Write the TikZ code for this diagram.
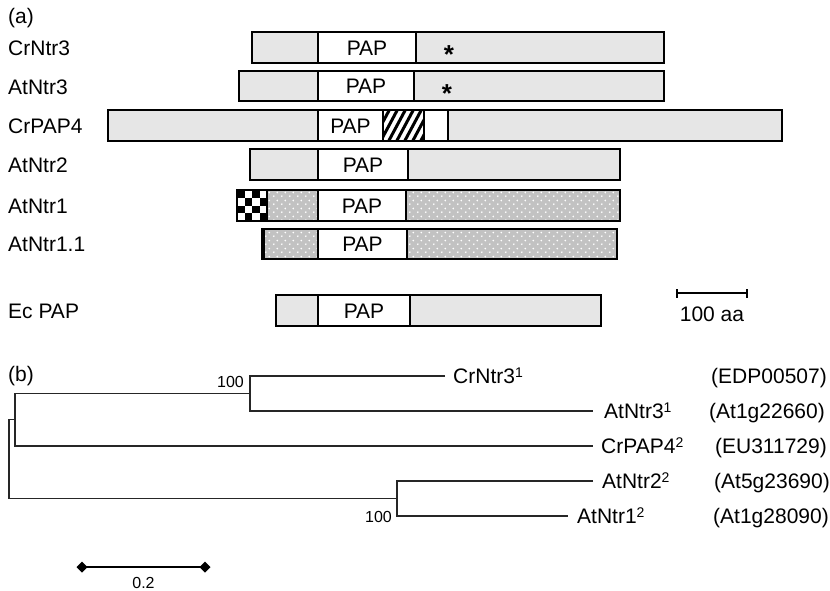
\documentclass[tikz,border=0pt]{standalone}
\usepackage{fontspec}
\setmainfont{Liberation Sans}
\usetikzlibrary{patterns}
\pgfdeclarepatternformonly{wdots}{\pgfpointorigin}{\pgfpoint{8pt}{8pt}}{\pgfpoint{8pt}{8pt}}{%
 \pgfpathcircle{\pgfpoint{2pt}{2pt}}{1pt}\pgfpathcircle{\pgfpoint{6pt}{6pt}}{1pt}\pgfusepath{fill}}
\definecolor{barg}{HTML}{E6E6E6}
\definecolor{dotg}{HTML}{C2C2C2}
\newcommand\fsa{\fontsize{21}{23}\selectfont}
\newcommand\fsb{\fontsize{16}{18}\selectfont}
\newcommand\fsstar{\fontsize{26}{26}\selectfont\bfseries}
\newcommand\supx[1]{\raisebox{6pt}{\fontsize{14}{14}\selectfont #1}}
\begin{document}
\begin{tikzpicture}[x=1pt,y=-1pt,
  bar/.style={draw=black,line width=1.6pt,fill=barg},
  papbox/.style={draw=black,line width=1.6pt,fill=white},
  edge/.style={draw=black,line width=1.6pt},
  lbl/.style={anchor=base west,inner sep=0pt,font=\fsa},
  ctxt/.style={anchor=base,inner sep=0pt,font=\fsa},
  star/.style={anchor=base,inner sep=0pt,font=\fsstar},
  acc/.style={anchor=base east,inner sep=0pt,font=\fsa},
  small/.style={anchor=base east,inner sep=0pt,font=\fsb},
  br/.style={line width=1.5pt,draw=black!85}]
\useasboundingbox (0,0) rectangle (830,590);

% ---------- panel (a) ----------
\node[lbl] (la) at (8,23.5) {(a)};
\node[lbl] (l1) at (8,55) {CrNtr3};
\node[lbl] (l2) at (8,94) {AtNtr3};
\node[lbl] (l3) at (8,133) {CrPAP4};
\node[lbl] (l4) at (8,172) {AtNtr2};
\node[lbl] (l5) at (8,213) {AtNtr1};
\node[lbl] (l6) at (8,251.5) {AtNtr1.1};
\node[lbl] (l7) at (8,318) {Ec PAP};

% CrNtr3
\draw[bar] (252,32) rectangle (664,63);
\draw[papbox] (318,32) rectangle (416,63);
\node[ctxt] (p1) at (367,55) {PAP};
\node[star] (s1) at (449,63) {*};

% AtNtr3
\draw[bar] (239,71) rectangle (664,101);
\draw[papbox] (318,71) rectangle (414,101);
\node[ctxt] (p2) at (366,93.5) {PAP};
\node[star] (s2) at (447,102) {*};

% CrPAP4
\draw[bar] (108,110) rectangle (782,141);
\draw[papbox] (318,110) rectangle (383,141);
\begin{scope}
\clip (383,110) rectangle (424,141);
\fill[white] (383,110) rectangle (424,141);
\foreach \x in {362,370,...,434} \draw[line width=3pt] (\x,146) -- ({\x+22},105);
\end{scope}
\draw[edge] (383,110) rectangle (424,141);
\draw[papbox] (424,110) rectangle (448,141);
\node[ctxt] (p3) at (350.5,133) {PAP};

% AtNtr2
\draw[bar] (250,149) rectangle (620,180);
\draw[papbox] (318,149) rectangle (408,180);
\node[ctxt] (p4) at (363,172) {PAP};

% AtNtr1
\fill[dotg] (237,190) rectangle (620,221);
\fill[pattern=wdots,pattern color=white] (237,190) rectangle (620,221);
\fill[white] (237,190) rectangle (267,221);
\foreach \i/\j in {0/0,0/2,1/1,1/3,2/0,2/2,3/1,3/3}
  \fill[black] ({237+7.5*\i},{190+7.75*\j}) rectangle ++(7.5,7.75);
\draw[edge] (237,190) rectangle (620,221);
\draw[edge] (267,190) -- (267,221);
\draw[papbox] (318,190) rectangle (406,221);
\node[ctxt] (p5) at (362,213) {PAP};

% AtNtr1.1
\fill[dotg] (262,229) rectangle (617,259);
\fill[pattern=wdots,pattern color=white] (262,229) rectangle (617,259);
\draw[edge] (262,229) rectangle (617,259);
\draw[line width=3.5pt] (263.5,229) -- (263.5,259);
\draw[papbox] (318,229) rectangle (407,259);
\node[ctxt] (p6) at (362.5,251.5) {PAP};

% Ec PAP
\draw[bar] (276,295) rectangle (601,326);
\draw[papbox] (318,295) rectangle (410,326);
\node[ctxt] (p7) at (364,318) {PAP};

% 100 aa scale
\coordinate (sa) at (677,293);
\coordinate (sb) at (747,293);
\draw[edge] (sa) -- (sb);
\draw[edge] ([yshift=-4.5pt]sa) -- ([yshift=4.5pt]sa);
\draw[edge] ([yshift=-4.5pt]sb) -- ([yshift=4.5pt]sb);
\node[ctxt] (saa) at (712,321) {100 aa};

% ---------- panel (b) ----------
\node[lbl] (lb) at (8,381) {(b)};

\coordinate (r1) at (9,419.5);
\coordinate (r2) at (9,498.5);
\coordinate (g1) at (15,393.5);
\coordinate (g0) at (15,419.5);
\coordinate (g2) at (15,446);
\coordinate (n1) at (250,376);
\coordinate (n0) at (250,393.5);
\coordinate (n2) at (250,411);
\coordinate (m1) at (397,481);
\coordinate (m0) at (397,498.5);
\coordinate (m2) at (397,516);
\coordinate (t1) at (445,376);
\coordinate (t2) at (593,411);
\coordinate (t3) at (593,446);
\coordinate (t4) at (593,481);
\coordinate (t5) at (568,516);

\draw[br] (g0) -- (r1) -- (r2) -- (m0);
\draw[br] (n0) -- (g1) -- (g2) -- (t3);
\draw[br] (t1) -- (n1) -- (n2) -- (t2);
\draw[br] (t4) -- (m1) -- (m2) -- (t5);

\node[small] (bs1) at (244,387) {100};
\node[small] (bs2) at (392,522) {100};

\node[lbl] (tl1) at (453,383.5) {CrNtr3\supx{1}};
\node[lbl] (tl2) at (604,418.5) {AtNtr3\supx{1}};
\node[lbl] (tl3) at (601,453.5) {CrPAP4\supx{2}};
\node[lbl] (tl4) at (602,488.5) {AtNtr2\supx{2}};
\node[lbl] (tl5) at (577,523.5) {AtNtr1\supx{2}};

\node[acc] (a1) at (827,383.5) {(EDP00507)};
\node[acc] (a2) at (825,418.5) {(At1g22660)};
\node[acc] (a3) at (827,453.5) {(EU311729)};
\node[acc] (a4) at (830,488.5) {(At5g23690)};
\node[acc] (a5) at (829,523.5) {(At1g28090)};

% 0.2 scale bar
\coordinate (d1) at (82,567);
\coordinate (d2) at (205,567);
\draw[line width=2pt] (d1) -- (d2);
\foreach \c in {d1,d2}
  \fill ([yshift=-5.5pt]\c) -- ([xshift=5.5pt]\c) -- ([yshift=5.5pt]\c) -- ([xshift=-5.5pt]\c) -- cycle;
\node[anchor=base,inner sep=0pt,font=\fsb] (sc) at (143.5,588) {0.2};
\end{tikzpicture}
\end{document}
